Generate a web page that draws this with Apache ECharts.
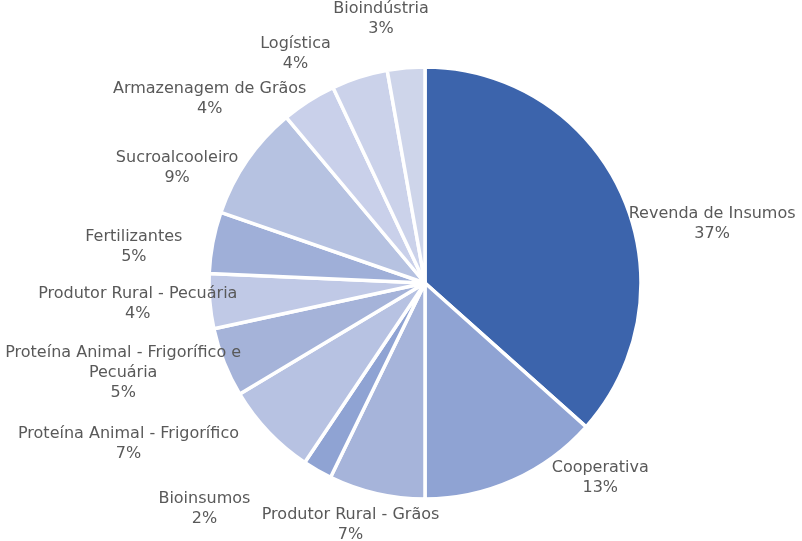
<!DOCTYPE html>
<html>
<head>
<meta charset="utf-8">
<script src="https://cdn.jsdelivr.net/npm/echarts@6/dist/echarts.min.js"></script>
<style>
  html, body { margin: 0; padding: 0; background: #fff; }
  #chart { width: 802px; height: 541px; }
</style>
</head>
<body>
<div id="chart"></div>
<script>
// categories, clockwise from 12 o'clock
const categories = [
  'Revenda de Insumos', 'Cooperativa', 'Produtor Rural - Grãos', 'Bioinsumos',
  'Proteína Animal - Frigorífico', 'Proteína Animal - Frigorífico e\nPecuária',
  'Produtor Rural - Pecuária', 'Fertilizantes', 'Sucroalcooleiro',
  'Armazenagem de Grãos', 'Logística', 'Bioindústria'
];
// share of each category (%)
const shares = [36.6, 13.4, 7.2, 2.2, 7.0, 5.2, 4.1, 4.6, 8.6, 4.1, 4.2, 2.8];

const sliceColors = [
  '#3c64ac', '#8fa3d3', '#a6b4da', '#8fa3d3', '#b7c2e2', '#a5b3d9',
  '#c0c9e6', '#9fafd8', '#b6c2e1', '#c9d0ea', '#cbd2ea', '#ced5ea'
];
// label nudge (px) away from the outer point of each slice's middle angle
const labelShift = [
  [90, 29], [87, -2], [-26, 31], [-113, 39], [-140, 12], [-101, 10],
  [-72, 3], [-79, 4], [-70, 7], [-99, -2], [-64, -23], [-25, -49]
];

const cx = 425, cy = 283, R = 216;
const total = shares.reduce((a, b) => a + b, 0);

// middle angle of each slice (radians, clockwise from top)
const midAngles = [];
let acc = 0;
shares.forEach(v => {
  midAngles.push((acc + v / 2) / total * Math.PI * 2);
  acc += v;
});

const chart = echarts.init(document.getElementById('chart'), null, { renderer: 'canvas' });

chart.setOption({
  animation: false,
  series: [{
    type: 'pie',
    center: [cx, cy],
    radius: R,
    startAngle: 90,
    clockwise: true,
    avoidLabelOverlap: false,
    data: categories.map((name, i) => ({
      name: name,
      value: shares[i],
      itemStyle: { color: sliceColors[i] }
    })),
    itemStyle: { borderColor: '#fff', borderWidth: 3.5 },
    label: {
      show: true,
      position: 'outside',
      formatter: p => p.name + '\n' + Math.round(p.value / total * 100) + '%',
      color: '#595959',
      fontFamily: 'DejaVu Sans',
      fontSize: 16,
      lineHeight: 20,
      align: 'center'
    },
    labelLine: { show: false },
    labelLayout: function (params) {
      const i = params.dataIndex;
      const a = midAngles[i];
      return {
        x: cx + R * Math.sin(a) + labelShift[i][0],
        y: cy - R * Math.cos(a) + labelShift[i][1],
        align: 'center',
        verticalAlign: 'middle'
      };
    },
    emphasis: { disabled: true }
  }]
});
</script>
</body>
</html>
